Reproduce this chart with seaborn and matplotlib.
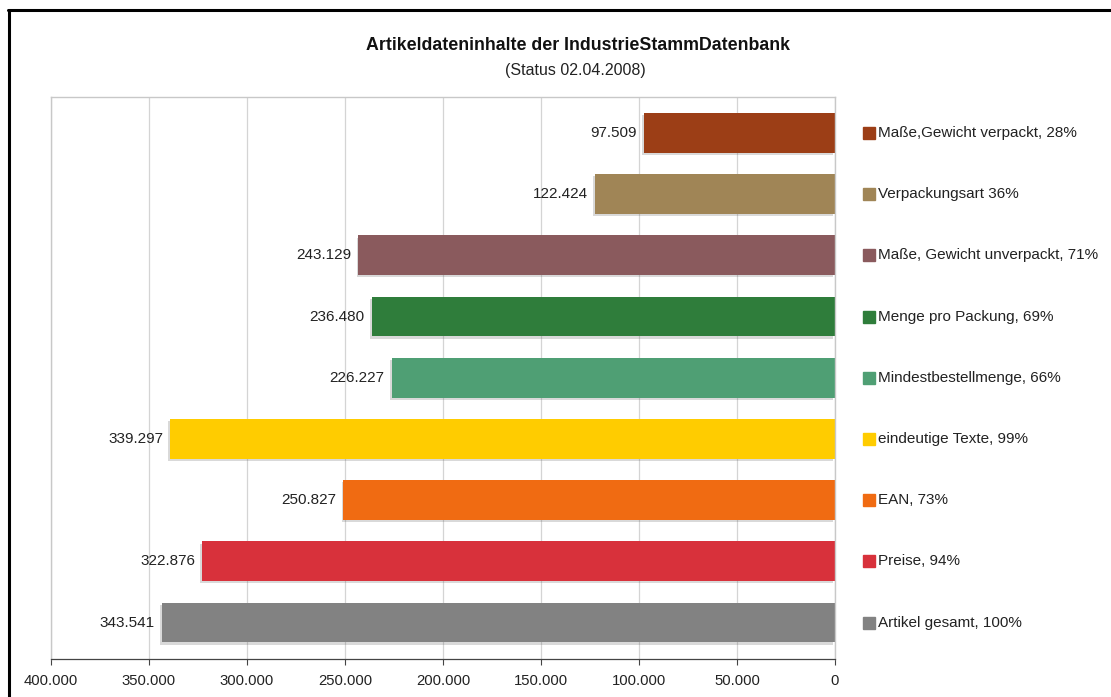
import matplotlib
matplotlib.use("Agg")
import matplotlib.pyplot as plt
import matplotlib.patheffects as pe
from matplotlib.transforms import blended_transform_factory
import pandas as pd
import seaborn as sns

# -------------------------------
# Data
# -------------------------------
categories = [
    "Maße,Gewicht verpackt",
    "Verpackungsart",
    "Maße, Gewicht unverpackt",
    "Menge pro Packung",
    "Mindestbestellmenge",
    "eindeutige Texte",
    "EAN",
    "Preise",
    "Artikel gesamt",
]
values = [97509, 122424, 243129, 236480, 226227, 339297, 250827, 322876, 343541]
legend_labels = [
    "Maße,Gewicht verpackt, 28%",
    "Verpackungsart 36%",
    "Maße, Gewicht unverpackt, 71%",
    "Menge pro Packung, 69%",
    "Mindestbestellmenge, 66%",
    "eindeutige Texte, 99%",
    "EAN, 73%",
    "Preise, 94%",
    "Artikel gesamt, 100%",
]
colors = ["#9C3E16", "#A08556", "#8A5A5D", "#2F7D3B", "#4F9F74",
          "#FFCC00", "#F06B12", "#D8313B", "#828282"]
x_ticks = [400000, 350000, 300000, 250000, 200000, 150000, 100000, 50000, 0]

df = pd.DataFrame({"Kategorie": categories, "Anzahl": values})


def de_num(v):
    return f"{v:,.0f}".replace(",", ".")


sns.set_theme(style="white")
plt.rcParams["font.family"] = ["Liberation Sans", "DejaVu Sans"]

fig = plt.figure(figsize=(11.11, 6.97), dpi=100)
ax = fig.add_axes([0.0459, 0.055, 0.7057, 0.806])

sns.barplot(
    data=df, x="Anzahl", y="Kategorie", hue="Kategorie",
    palette=colors, orient="h", width=0.65, legend=False, ax=ax,
    saturation=1, linewidth=0,
)

for bar in ax.patches:
    bar.set_path_effects([pe.SimplePatchShadow(offset=(-1.2, -1.5), alpha=0.22,
                                               shadow_rgbFace="#555555"),
                          pe.Normal()])

ax.set_xlim(400000, 0)
ax.set_ylim(8.59, -0.59)
ax.set_xticks(x_ticks)
ax.set_xticklabels([de_num(t) for t in x_ticks], fontsize=10.7, color="#222222")
ax.set_yticks([])
ax.set_xlabel("")
ax.set_ylabel("")
ax.tick_params(axis="x", bottom=True, length=4, width=0.8, color="#444444", pad=7)
ax.grid(axis="x", color="#d4d4d4", linewidth=0.9)
ax.set_axisbelow(True)

for side in ["top", "left", "right"]:
    ax.spines[side].set_color("#c8c8c8")
    ax.spines[side].set_linewidth(1.0)
ax.spines["bottom"].set_color("#444444")
ax.spines["bottom"].set_linewidth(0.9)

# value labels left of the bar ends
for i, v in enumerate(values):
    ax.annotate(de_num(v), xy=(v, i), xytext=(-5, 0), textcoords="offset points",
                ha="right", va="center", fontsize=11, color="#222222")

# legend aligned with each bar
trans = blended_transform_factory(ax.transAxes, ax.transData)
for i, (lab, c) in enumerate(zip(legend_labels, colors)):
    ax.plot([1.0434], [i], marker="s", markersize=8.5, color=c,
            transform=trans, clip_on=False, linestyle="none")
    ax.text(1.0548, i, lab, transform=trans, ha="left", va="center",
            fontsize=11, color="#222222")

fig.text(0.52, 0.935, "Artikeldateninhalte der IndustrieStammDatenbank",
         ha="center", va="center", fontsize=12.8, fontweight="bold", color="#111111")
fig.text(0.518, 0.899, "(Status 02.04.2008)", ha="center", va="center",
         fontsize=11.5, color="#222222")

# black frame lines on top and left of the image
fig.add_artist(plt.Line2D([0.0081, 0.0081], [0, 0.985], color="black",
                          linewidth=2.2, transform=fig.transFigure))
fig.add_artist(plt.Line2D([0.0072, 1.0], [0.985, 0.985], color="black",
                          linewidth=2.2, transform=fig.transFigure))

fig.savefig("out.png", dpi=100, facecolor="white")
plt.close(fig)
